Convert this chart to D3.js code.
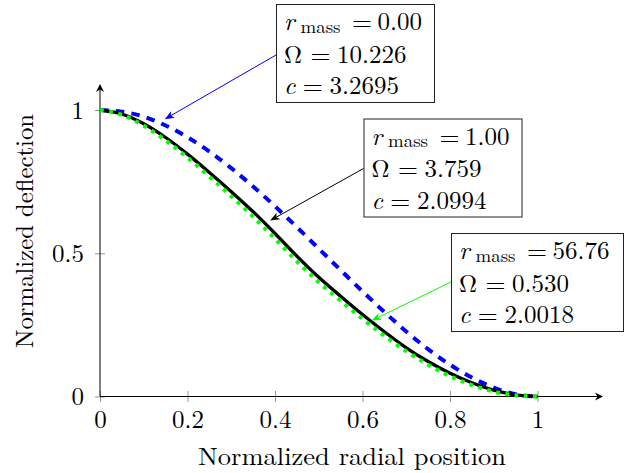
<!DOCTYPE html>
<html>
<head>
<meta charset="utf-8">
<script src="https://cdn.jsdelivr.net/npm/d3@7"></script>
<style>
  body { margin: 0; background: #fff; }
  text { font-family: "Latin Modern Roman", "CMU Serif", "Liberation Serif", serif; fill: #000; }
</style>
</head>
<body>
<div id="chart"></div>
<script>
// normalized radial position (sample points)
const radialPos = [0, 0.05, 0.1, 0.15, 0.2, 0.25, 0.3, 0.35, 0.4, 0.45, 0.5,
  0.55, 0.6, 0.65, 0.7, 0.75, 0.8, 0.85, 0.9, 0.95, 1];

// mode shapes
const deflMassless = [1, 0.994, 0.977, 0.946, 0.905, 0.855, 0.797, 0.733, 0.664, 0.591, 0.516,
  0.441, 0.367, 0.295, 0.227, 0.165, 0.111, 0.066, 0.031, 0.008, 0];
const deflUnitMass = [1, 0.986, 0.952, 0.904, 0.846, 0.782, 0.715, 0.645, 0.569, 0.490, 0.416,
  0.350, 0.286, 0.226, 0.170, 0.122, 0.081, 0.048, 0.022, 0.006, 0];
const deflHeavyMass = [1, 0.983, 0.945, 0.894, 0.834, 0.768, 0.699, 0.628, 0.551, 0.472, 0.399,
  0.334, 0.271, 0.212, 0.158, 0.111, 0.071, 0.040, 0.017, 0.004, 0];

const xTicks = [0, 0.2, 0.4, 0.6, 0.8, 1];
const yTicks = [0, 0.5, 1];

// annotation texts and where their arrows point (data coords)
const massLabels = ['0.00', '1.00', '56.76'];
const omegaLabels = ['10.226', '3.759', '0.530'];
const cLabels = ['3.2695', '2.0994', '2.0018'];
const pointAt = [[0.148, 0.968], [0.389, 0.614], [0.621, 0.265]];

const width = 632, height = 473;
const colors = ['#0000ff', '#000000', '#00ff00'];

const svg = d3.select('#chart').append('svg')
  .attr('width', width)
  .attr('height', height);

const x = d3.scaleLinear().domain([0, 1]).range([100, 537.5]);
const y = d3.scaleLinear().domain([0, 1]).range([396.5, 110]);

// axes (ticks cross the axis line)
const xAxis = svg.append('g')
  .attr('transform', `translate(0,${y(0)})`)
  .call(d3.axisBottom(x).tickValues(xTicks).tickFormat(d3.format('')));
xAxis.select('.domain').remove();
xAxis.selectAll('.tick line').attr('y1', -5.5).attr('y2', 5.5)
  .attr('stroke', '#888').attr('stroke-width', 0.9);
xAxis.selectAll('.tick text').attr('y', 31).attr('dy', null)
  .attr('font-size', 25).attr('font-family', null);

const yAxis = svg.append('g')
  .attr('transform', `translate(${x(0)},0)`)
  .call(d3.axisLeft(y).tickValues(yTicks).tickFormat(d3.format('')));
yAxis.select('.domain').remove();
yAxis.selectAll('.tick line').attr('x1', -5).attr('x2', 5)
  .attr('stroke', '#888').attr('stroke-width', 0.9);
yAxis.selectAll('.tick text').attr('x', -16).attr('dy', '0.33em')
  .attr('font-size', 25).attr('font-family', null);

// axis lines with arrow tips
function axisTip(px, py, angle) {
  svg.append('path')
    .attr('d', 'M0,0 L-8,-4 L-5.5,0 L-8,4 Z')
    .attr('transform', `translate(${px},${py}) rotate(${angle})`)
    .attr('fill', '#000');
}
svg.append('line').attr('x1', x(0)).attr('y1', y(0)).attr('x2', 600).attr('y2', y(0))
  .attr('stroke', '#000').attr('stroke-width', 1);
axisTip(603, y(0), 0);
svg.append('line').attr('x1', x(0)).attr('y1', y(0)).attr('x2', x(0)).attr('y2', 87)
  .attr('stroke', '#000').attr('stroke-width', 1);
axisTip(x(0), 84, -90);

// axis labels
svg.append('text')
  .attr('x', 352).attr('y', 465)
  .attr('text-anchor', 'middle').attr('font-size', 25)
  .attr('textLength', 308).attr('lengthAdjust', 'spacingAndGlyphs')
  .text('Normalized radial position');
svg.append('text')
  .attr('transform', 'translate(33,231) rotate(-90)')
  .attr('text-anchor', 'middle').attr('font-size', 25)
  .attr('textLength', 234).attr('lengthAdjust', 'spacingAndGlyphs')
  .text('Normalized deflection');

// curves
const line = d3.line()
  .x((d, i) => x(radialPos[i]))
  .y(d => y(d))
  .curve(d3.curveMonotoneX);

svg.append('path').datum(deflMassless)
  .attr('d', line).attr('fill', 'none')
  .attr('stroke', colors[0]).attr('stroke-width', 4)
  .attr('stroke-dasharray', '8.5,7.3');
svg.append('path').datum(deflUnitMass)
  .attr('d', line).attr('fill', 'none')
  .attr('stroke', colors[1]).attr('stroke-width', 3.3);
svg.append('path').datum(deflHeavyMass)
  .attr('d', line).attr('fill', 'none')
  .attr('stroke', colors[2]).attr('stroke-width', 4)
  .attr('stroke-dasharray', '3.8,5.5');

// annotation boxes with arrows
const boxes = [
  {x: 276, y: 4, w: 158, h: 98, ay: 51},
  {x: 363.5, y: 118.5, w: 158, h: 98, ay: 50},
  {x: 451, y: 233, w: 172, h: 98, ay: 49}
];

// lays pieces of one line out left to right as separate texts
function mathLine(g, y0, pieces) {
  let cx = 8;
  pieces.forEach(p => {
    cx += p.gap || 0;
    const t = g.append('text')
      .attr('x', cx).attr('y', y0 + (p.dy || 0))
      .attr('font-size', p.size || 25)
      .attr('font-style', p.italic ? 'italic' : null)
      .text(p.s);
    if (p.len) t.attr('textLength', p.len).attr('lengthAdjust', 'spacingAndGlyphs');
    cx += p.len || t.node().getComputedTextLength();
  });
}

boxes.forEach((b, i) => {
  const tx = x(pointAt[i][0]), ty = y(pointAt[i][1]);
  const sx = b.x, sy = b.y + b.ay;
  const a = Math.atan2(ty - sy, tx - sx);
  svg.append('line')
    .attr('x1', sx).attr('y1', sy)
    .attr('x2', tx - 6 * Math.cos(a))
    .attr('y2', ty - 6 * Math.sin(a))
    .attr('stroke', colors[i]).attr('stroke-width', 1);
  svg.append('path')
    .attr('d', 'M0,0 L-9.5,-3.8 L-7,0 L-9.5,3.8 Z')
    .attr('transform', `translate(${tx},${ty}) rotate(${a * 180 / Math.PI})`)
    .attr('fill', colors[i]);

  const g = svg.append('g').attr('transform', `translate(${b.x},${b.y})`);
  g.append('rect')
    .attr('x', 0.5).attr('y', 0.5).attr('width', b.w).attr('height', b.h)
    .attr('fill', '#fff').attr('stroke', '#222').attr('stroke-width', 1);

  mathLine(g, 26.0, [
    {s: 'r', italic: true},
    {s: 'mass', size: 18, gap: 6, dy: 2.6, len: 40},
    {s: '=', gap: 11.5, len: 20},
    {s: massLabels[i], gap: 5.5}
  ]);
  mathLine(g, 58.6, [
    {s: 'Ω'},
    {s: '=', gap: 8.4, len: 20},
    {s: omegaLabels[i], gap: 6.6}
  ]);
  mathLine(g, 90.2, [
    {s: 'c', italic: true},
    {s: '=', gap: 7.3, len: 20},
    {s: cLabels[i], gap: 6.7}
  ]);
});
</script>
</body>
</html>
